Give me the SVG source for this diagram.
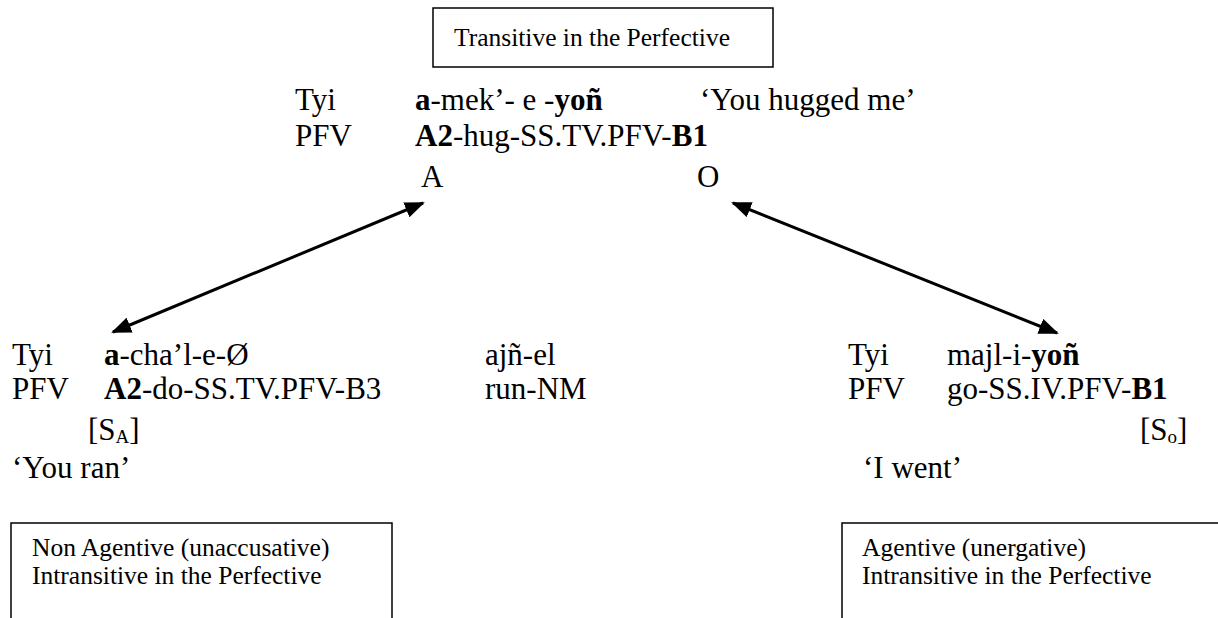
<svg xmlns="http://www.w3.org/2000/svg" width="1218" height="618" viewBox="0 0 1218 618" font-family="'Liberation Serif', 'Times New Roman', serif">
<defs>
<style>
text{font-family:"Liberation Serif","Times New Roman",serif;fill:#000}
.m{font-size:31px}
.s{font-size:25.5px}
.b{font-weight:bold}
.sub{font-size:19px}
.box{fill:none;stroke:#000;stroke-width:1.5}
.con{stroke:#000;stroke-width:3;fill:none}
</style>
<marker id="ah" viewBox="0 0 20 16" refX="18" refY="8" markerWidth="20" markerHeight="16" markerUnits="userSpaceOnUse" orient="auto-start-reverse">
<path d="M0,0 L20,8 L0,16 Z" fill="#000"/>
</marker>
</defs>
<rect width="1218" height="618" fill="#fff"/>
<g id="top-box">
<rect class="box" x="433" y="8" width="340" height="59"/>
<text class="s" x="454" y="46">Transitive in the Perfective</text>
</g>
<g id="transitive">
<text class="m" x="295" y="110">Tyi</text>
<text class="m" x="415" y="110"><tspan class="b">a</tspan>-mek’- e -<tspan class="b">yoñ</tspan></text>
<text class="m" x="700" y="110">‘You hugged me’</text>
<text class="m" x="295" y="146">PFV</text>
<text class="m" x="415" y="146"><tspan class="b">A2</tspan>-hug-SS.TV.PFV-<tspan class="b">B1</tspan></text>
<text class="m" x="421" y="187">A</text>
<text class="m" x="697" y="187">O</text>
</g>
<g id="connectors">
<line class="con" x1="113" y1="332" x2="423" y2="203" marker-start="url(#ah)" marker-end="url(#ah)"/>
<line class="con" x1="733" y1="203" x2="1057" y2="333" marker-start="url(#ah)" marker-end="url(#ah)"/>
</g>
<g id="unaccusative">
<text class="m" x="12" y="365">Tyi</text>
<text class="m" x="104" y="365"><tspan class="b">a</tspan>-cha’l-e-Ø</text>
<text class="m" x="485" y="365">ajñ-el</text>
<text class="m" x="12" y="399">PFV</text>
<text class="m" x="104" y="399"><tspan class="b">A2</tspan>-do-SS.TV.PFV-B3</text>
<text class="m" x="485" y="399">run-NM</text>
<text class="m" x="88" y="440">[S<tspan class="sub" dy="3">A</tspan><tspan dy="-3">]</tspan></text>
<text class="m" x="12" y="478">‘You ran’</text>
</g>
<g id="unaccusative-box">
<path class="box" d="M11,618 V523 H392 V618"/>
<text class="s" x="32" y="556">Non Agentive (unaccusative)</text>
<text class="s" x="32" y="584">Intransitive in the Perfective</text>
</g>
<g id="unergative">
<text class="m" x="848" y="365">Tyi</text>
<text class="m" x="947" y="365">majl-i-<tspan class="b">yoñ</tspan></text>
<text class="m" x="848" y="399">PFV</text>
<text class="m" x="947" y="399">go-SS.IV.PFV-<tspan class="b">B1</tspan></text>
<text class="m" x="1140" y="440">[S<tspan class="sub" dy="3">o</tspan><tspan dy="-3">]</tspan></text>
<text class="m" x="863" y="478">‘I went’</text>
</g>
<g id="unergative-box">
<path class="box" d="M842,618 V523 H1220"/>
<text class="s" x="862" y="556">Agentive (unergative)</text>
<text class="s" x="862" y="584">Intransitive in the Perfective</text>
</g>
</svg>
